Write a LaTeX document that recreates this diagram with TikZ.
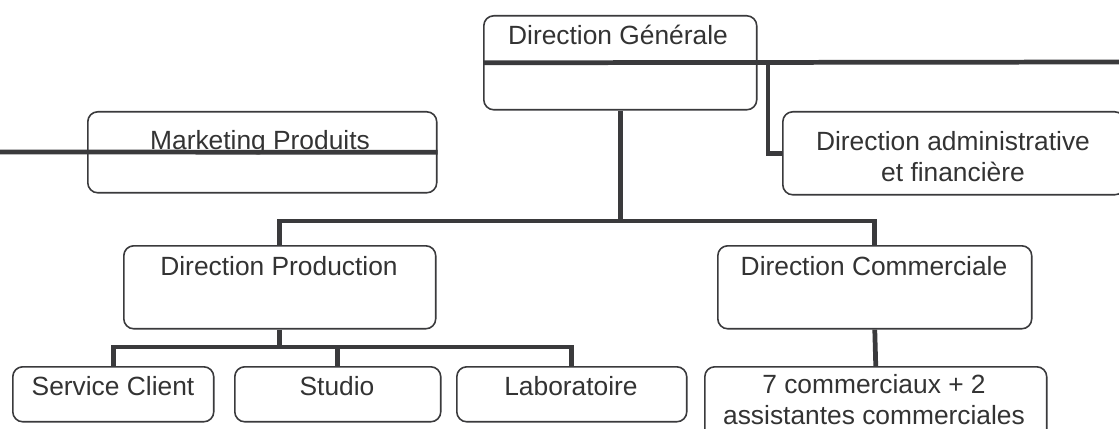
\documentclass[tikz,border=0pt]{standalone}
\usepackage{fontspec}
\setmainfont{Liberation Sans}
\usepackage{tikz}
\usetikzlibrary{calc,positioning}
\definecolor{inkgrey}{HTML}{3A3A3C}
\definecolor{textgrey}{HTML}{333333}

\begin{document}
\begin{tikzpicture}[x=0.02cm, y=-0.02cm,
		box/.style={draw=inkgrey, line width=0.9pt, rounded corners=0.2cm, anchor=north west, inner sep=0pt},
		link/.style={draw=inkgrey, line width=2.7pt},
		txt/.style={text=textgrey, inner sep=0pt, anchor=base, align=center, font=\fontsize{15}{17.6}\selectfont}]
			%%%%% START %%%%%
			
			\useasboundingbox (0, 0) rectangle (1119, 429);
			\fill[white] (0, 0) rectangle (1119, 429);
			
			% boxes
			\node[box, minimum width=5.46cm, minimum height=1.88cm] (dg) at (483, 15) {};
			\node[box, minimum width=6.98cm, minimum height=1.62cm] (mkt) at (87, 111) {};
			\node[box, minimum width=6.84cm, minimum height=1.66cm] (admin) at (782, 111) {};
			\node[box, minimum width=6.24cm, minimum height=1.66cm] (dp) at (123, 245) {};
			\node[box, minimum width=6.28cm, minimum height=1.66cm] (dc) at (717, 245) {};
			\node[box, minimum width=4.02cm, minimum height=1.1cm] (sc) at (12, 366) {};
			\node[box, minimum width=4.12cm, minimum height=1.1cm] (studio) at (234, 366) {};
			\node[box, minimum width=4.6cm, minimum height=1.1cm] (lab) at (456, 366) {};
			\node[box, minimum width=6.84cm, minimum height=1.52cm] (com) at (704, 366) {};
			
			% labels (two-line ones sit on their last line)
			\node[txt] (dgtxt) at (618, 45) {Direction Générale};
			\node[txt] (mkttxt) at (260, 150) {Marketing Produits};
			\node[txt] (admintxt) at (953, 181) {Direction administrative\\et financière};
			\node[txt] (dptxt) at (279, 275) {Direction Production};
			\node[txt] (dctxt) at (874, 275) {Direction Commerciale};
			\node[txt] (sctxt) at (113, 395) {Service Client};
			\node[txt] (studiotxt) at (337, 395) {Studio};
			\node[txt] (labtxt) at (571, 395) {Laboratoire};
			\node[txt] (comtxt) at (874, 424) {7 commerciaux + 2\\assistantes commerciales};
			
			% connectors
			\coordinate (dgend) at (1125, 62);
			\coordinate (mktend) at (-5, 152);
			\draw[link] (dg.west) -- (dgend);
			\draw[link] (admin.west) -- ++(-14, 0) |- (dg.east);
			\draw[link] (mkt.east) -- (mktend);
			
			\draw[link] (dp.north) -- ++(0, -24) coordinate (dpup) -| (dc.north);
			\draw[link] (dg.south) -- (dg.south |- dpup);
			
			\draw[link] (sc.north) -- ++(0, -19) coordinate (scup) -| (lab.north);
			\draw[link] (dp.south) -- (dp.south |- scup);
			\draw[link] (studio.north) -- (studio.north |- scup);
			
			\draw[link] (dc.south) -- (com.north);
			
			%%%%% END %%%%%
\end{tikzpicture}
\end{document}
